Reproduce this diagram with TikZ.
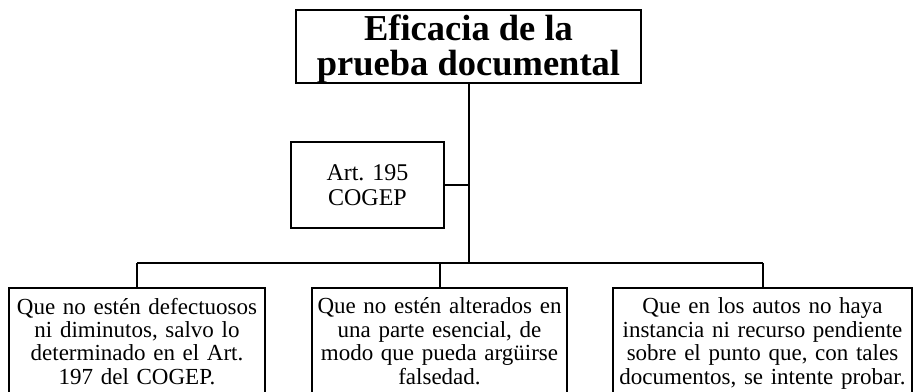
\documentclass[tikz,border=0pt]{standalone}
\usepackage{fontspec}
\setmainfont{Liberation Serif}
\tikzset{
  box/.style={draw, line width=2pt, align=center, inner sep=0pt},
  req/.style={box, anchor=north, inner ysep=10pt, font=\fontsize{23}{23.4}\selectfont},
  link/.style={line width=2pt}
}
\begin{document}
\begin{tikzpicture}[x=1pt,y=-1pt]
  \useasboundingbox (0,0) rectangle (913,391);
  \node[box, minimum width=345pt, minimum height=73pt, font=\bfseries\fontsize{36.5}{35}\selectfont] (title) at (468.5,46.5) {\rule{0pt}{31pt}Eficacia de la\\prueba documental};
  \node[box, minimum width=153pt, minimum height=86pt, font=\fontsize{24}{24.5}\selectfont] (art) at (367.5,185) {Art. 195\\COGEP};
  \node[req, text width=256pt] (reqA) at (137,287) {Que no estén defectuosos\\ni diminutos, salvo lo\\determinado en el Art.\\197 del COGEP.};
  \node[req, text width=255pt] (reqB) at (439.5,287) {Que no estén alterados en\\una parte esencial, de\\modo que pueda argüirse\\falsedad.};
  \node[req, text width=299pt] (reqC) at (762.5,287) {Que en los autos no haya\\instancia ni recurso pendiente\\sobre el punto que, con tales\\documentos, se intente probar.};
  \coordinate (bus) at (468,263);
  \draw[link] (title) -- (title |- bus);
  \draw[link] (art.east) -- (art.east -| title);
  \draw[link] (reqA |- bus) -- (reqC |- bus);
  \draw[link] (reqA |- bus) edge (reqA.north) (reqB |- bus) edge (reqB.north) (reqC |- bus) edge (reqC.north);
\end{tikzpicture}
\end{document}
